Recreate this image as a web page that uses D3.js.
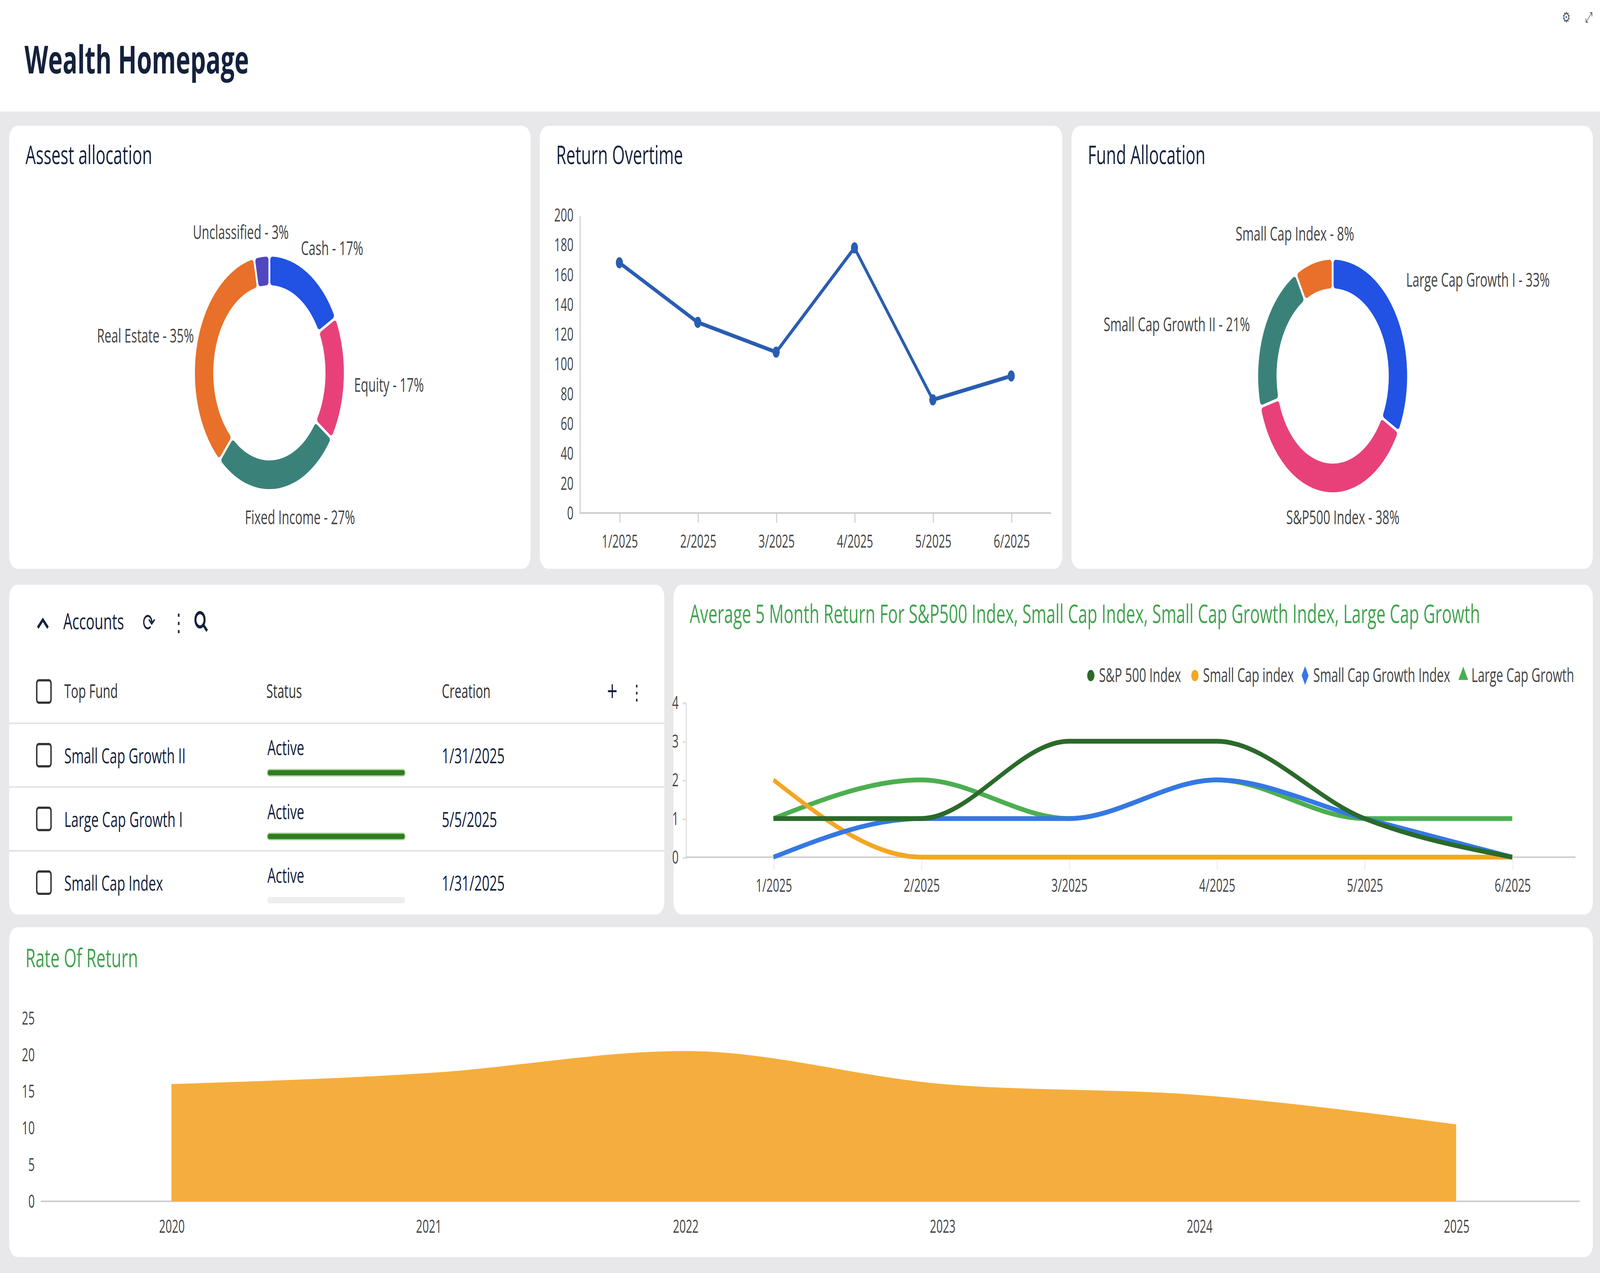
<!DOCTYPE html>
<html><head><meta charset="utf-8">
<script src="https://cdn.jsdelivr.net/npm/d3@7"></script>
<style>html,body{margin:0;height:100%;background:#e8e8ea;overflow:hidden}svg{display:block;width:100vw;height:100vh;font-family:"Open Sans","Noto Sans",sans-serif}</style>
</head><body>
<svg id="c" viewBox="0 0 1568 799" preserveAspectRatio="none"></svg>
<script>
const assetLabels = ["Cash", "Equity", "Fixed Income", "Real Estate", "Unclassified"];
const assetValues = [17, 17, 27, 35, 3];
const assetColors = ["#2152e3", "#e8417a", "#3a8279", "#e8702a", "#5046c0"];
const fundLabels = ["Large Cap Growth I", "S&P500  Index", "Small Cap Growth II", "Small Cap Index"];
const fundValues = [33, 38, 21, 8];
const fundColors = ["#2152e3", "#e8417a", "#3a8279", "#e8702a"];
const months = ["1/2025", "2/2025", "3/2025", "4/2025", "5/2025", "6/2025"];
const returnValues = [168, 128, 108, 178, 76, 92];
const seriesNames = ["S&P 500 Index", "Small Cap index", "Small Cap Growth Index", "Large Cap Growth"];
const sp500 = [1, 1, 3, 3, 1, 0];
const smallCap = [2, 0, 0, 0, 0, 0];
const smallCapGrowth = [0, 1, 1, 2, 1, 0];
const largeCapGrowth = [1, 2, 1, 2, 1, 1];
const years = ["2020", "2021", "2022", "2023", "2024", "2025"];
const rateValues = [16, 17.5, 20.5, 16, 14.5, 10.5];
const accounts = [["Small Cap Growth II", "Active", "1/31/2025"], ["Large Cap Growth I", "Active", "5/5/2025"], ["Small Cap Index", "Active", "1/31/2025"]];

const svg = d3.select("#c");
const dark = "#14213d";
svg.append("rect").attr("width", 1568).attr("height", 70).attr("fill", "#fff");
svg.append("text").attr("x", 24).attr("y", 46).attr("font-size", 24).attr("font-weight", 700).attr("fill", dark).text("Wealth Homepage");
svg.append("text").attr("x", 1535).attr("y", 14).attr("font-size", 9).attr("fill", "#555").attr("text-anchor", "middle").text("⚙");
svg.append("text").attr("x", 1557).attr("y", 14).attr("font-size", 9).attr("fill", "#555").attr("text-anchor", "middle").text("⤢");

const cards = [[9, 79, 511, 278], [529, 79, 512, 278], [1050, 79, 511, 278], [9, 367, 642, 207], [660, 367, 901, 207], [9, 582, 1552, 207]];
cards.forEach(c => svg.append("rect").attr("x", c[0]).attr("y", c[1]).attr("width", c[2]).attr("height", c[3]).attr("rx", 8).attr("fill", "#fff"));
const title = (x, y, t, col) => svg.append("text").attr("x", x).attr("y", y).attr("font-size", 16).attr("fill", col || dark).text(t);
title(25, 103, "Assest allocation");
title(545, 103, "Return Overtime");
title(1066, 103, "Fund Allocation");
title(676, 391, "Average 5 Month Return For S&P500 Index, Small Cap Index, Small Cap Growth Index, Large Cap Growth", "#3fa34d");
title(25, 607, "Rate Of Return", "#3fa34d");

function donut(cx, cy, labels, values, colors, labelPos) {
  const g = svg.append("g").attr("transform", `translate(${cx},${cy})`);
  const arcs = d3.pie().sort(null).padAngle(0.02)(values);
  const arc = d3.arc().innerRadius(55).outerRadius(73).cornerRadius(2);
  g.selectAll("path").data(arcs).join("path").attr("d", arc).attr("fill", (d, i) => colors[i]);
  labels.forEach((l, i) => {
    const p = labelPos[i];
    g.append("text").attr("x", p[0]).attr("y", p[1]).attr("text-anchor", p[2]).attr("font-size", 12).attr("fill", "#444").text(`${l} - ${values[i]}%`);
  });
}
donut(264, 234, assetLabels, assetValues, assetColors, [[31, -74, "start"], [83, 12, "start"], [30, 95, "middle"], [-74, -19, "end"], [-28, -84, "middle"]]);
donut(1306, 236, fundLabels, fundValues, fundColors, [[72, -56, "start"], [10, 93, "middle"], [-81, -28, "end"], [-37, -85, "middle"]]);

// Return overtime
{
  const x = d3.scalePoint().domain(months).range([607, 991]);
  const y = d3.scaleLinear().domain([0, 200]).range([322, 135]);
  const gy = svg.append("g").attr("transform", "translate(568,0)").call(d3.axisLeft(y).ticks(10).tickSize(0).tickPadding(6));
  gy.select(".domain").attr("stroke", "#ccc");
  const gx = svg.append("g").attr("transform", "translate(0,322)").call(d3.axisBottom(x).tickSize(6).tickPadding(8));
  gx.select(".domain").attr("d", "M568,0H1030").attr("stroke", "#ccc");
  gx.selectAll("line").attr("stroke", "#ccc");
  svg.selectAll(".tick text").attr("font-size", 11).attr("fill", "#444").attr("font-family", "Open Sans");
  const pts = months.map((m, i) => [x(m), y(returnValues[i])]);
  svg.append("path").attr("d", d3.line()(pts)).attr("fill", "none").attr("stroke", "#2a5db0").attr("stroke-width", 2.5);
  svg.selectAll(null).data(pts).join("circle").attr("cx", d => d[0]).attr("cy", d => d[1]).attr("r", 3.5).attr("fill", "#2a5db0");
}

// Accounts table
{
  const g = svg.append("g").attr("fill", dark);
  g.append("path").attr("d", "M37,394l5,-5l5,5").attr("fill", "none").attr("stroke", dark).attr("stroke-width", 2);
  g.append("text").attr("x", 62).attr("y", 395).attr("font-size", 14).text("Accounts");
  g.append("text").attr("x", 146).attr("y", 396).attr("font-size", 15).attr("text-anchor", "middle").attr("font-family", "DejaVu Sans").text("⟳");
  g.append("text").attr("x", 175).attr("y", 396).attr("font-size", 15).attr("text-anchor", "middle").text("⋮");
  g.append("circle").attr("cx", 196).attr("cy", 389).attr("r", 4.5).attr("fill", "none").attr("stroke", dark).attr("stroke-width", 2);
  g.append("line").attr("x1", 199.5).attr("y1", 392.5).attr("x2", 203).attr("y2", 396).attr("stroke", dark).attr("stroke-width", 2);
  const box = yy => g.append("rect").attr("x", 36).attr("y", yy - 7).attr("width", 14).attr("height", 14).attr("rx", 2).attr("fill", "none").attr("stroke", "#333").attr("stroke-width", 1.4);
  box(434);
  [["Top Fund", 63], ["Status", 261], ["Creation", 433]].forEach(h => g.append("text").attr("x", h[1]).attr("y", 438).attr("font-size", 12).attr("fill", "#333").text(h[0]));
  g.append("text").attr("x", 600).attr("y", 440).attr("font-size", 18).attr("text-anchor", "middle").text("+");
  g.append("text").attr("x", 624).attr("y", 439).attr("font-size", 13).attr("text-anchor", "middle").text("⋮");
  accounts.forEach((r, i) => {
    const yy = 474 + i * 40;
    svg.append("line").attr("x1", 9).attr("x2", 651).attr("y1", yy - 20).attr("y2", yy - 20).attr("stroke", "#e3e3e3");
    box(yy);
    g.append("text").attr("x", 63).attr("y", yy + 5).attr("font-size", 13).text(r[0]);
    g.append("text").attr("x", 262).attr("y", yy).attr("font-size", 13).text(r[1]);
    g.append("rect").attr("x", 262).attr("y", yy + 9).attr("width", 135).attr("height", 4).attr("rx", 2).attr("fill", i < 2 ? "#2f7d1e" : "#eee").attr("stroke", i < 2 ? "#a8d49a" : "none").attr("stroke-width", 0.8);
    g.append("text").attr("x", 433).attr("y", yy + 5).attr("font-size", 13).text(r[2]);
  });
}

// Average 5 month chart
{
  const x = d3.scalePoint().domain(months).range([758, 1482]);
  const y = d3.scaleLinear().domain([0, 4]).range([538, 441]);
  const gy = svg.append("g").attr("transform", "translate(672,0)").call(d3.axisLeft(y).ticks(4).tickSize(3).tickPadding(4));
  gy.select(".domain").attr("stroke", "#ddd"); gy.selectAll("line").attr("stroke", "#ddd");
  const gx = svg.append("g").attr("transform", "translate(0,538)").call(d3.axisBottom(x).tickSize(8).tickPadding(6));
  gx.select(".domain").attr("d", "M672,0H1544").attr("stroke", "#ccc"); gx.selectAll("line").attr("stroke", "#eee");
  [gy, gx].forEach(a => a.selectAll("text").attr("font-size", 11).attr("fill", "#444").attr("font-family", "Open Sans"));
  const cols = ["#2a6a2a", "#f5a623", "#3578e5", "#4caf50"];
  const data = [sp500, smallCap, smallCapGrowth, largeCapGrowth];
  const line = d3.line().curve(d3.curveMonotoneX).x((d, i) => x(months[i])).y(d => y(d));
  [3, 1, 2, 0].forEach(k => svg.append("path").attr("d", line(data[k])).attr("fill", "none").attr("stroke", cols[k]).attr("stroke-width", 3));
  const lx = [1065, 1167, 1275, 1430];
  const shapes = [d3.symbolCircle, d3.symbolCircle, d3.symbolDiamond, d3.symbolTriangle];
  seriesNames.forEach((n, i) => {
    svg.append("path").attr("transform", `translate(${lx[i] + 4},${424})`).attr("d", d3.symbol(shapes[i], 40)()).attr("fill", cols[i]);
    svg.append("text").attr("x", lx[i] + 12).attr("y", 428).attr("font-size", 12).attr("fill", "#444").text(n);
  });
}

// Rate of return
{
  const x = d3.scalePoint().domain(years).range([168, 1427]);
  const y = d3.scaleLinear().domain([0, 25]).range([754, 639]);
  const gy = svg.append("g").attr("transform", "translate(40,0)").call(d3.axisLeft(y).ticks(5).tickSize(0).tickPadding(6));
  gy.select(".domain").remove();
  const gx = svg.append("g").attr("transform", "translate(0,754)").call(d3.axisBottom(x).tickSize(0).tickPadding(12));
  gx.select(".domain").attr("d", "M40,0H1548").attr("stroke", "#ccc");
  [gy, gx].forEach(a => a.selectAll("text").attr("font-size", 11).attr("fill", "#444").attr("font-family", "Open Sans"));
  const area = d3.area().curve(d3.curveMonotoneX).x((d, i) => x(years[i])).y0(754).y1(d => y(d));
  svg.append("path").attr("d", area(rateValues)).attr("fill", "#f5ae3d");
}
</script>
</body></html>
